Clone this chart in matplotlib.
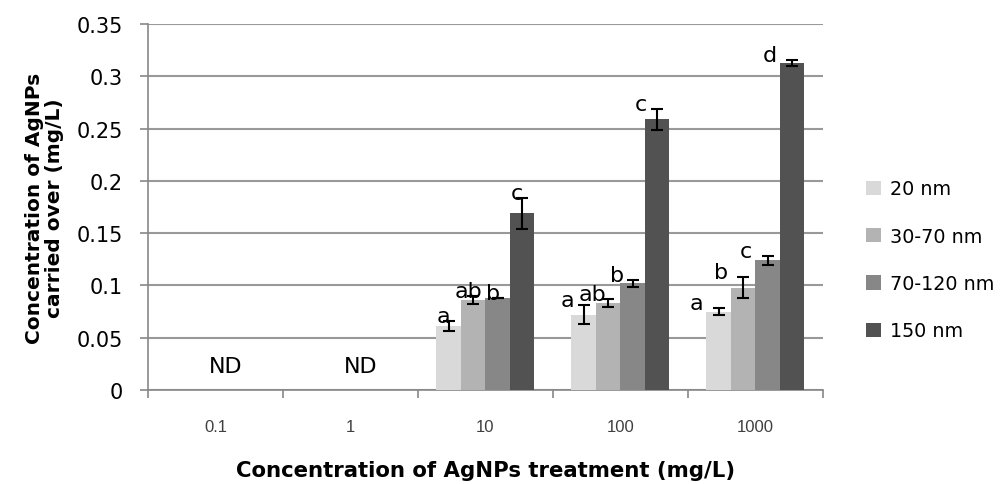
import numpy as np
import matplotlib.pyplot as plt

plt.rcParams['font.family'] = ['DejaVu Sans']

categories = ['0.1', '1', '10', '100', '1000']
series = ['20 nm', '30-70 nm', '70-120 nm', '150 nm']
colors = ['#d9d9d9', '#b3b3b3', '#878787', '#525252']

# mean values per series (rows) across treatments (columns); ND -> 0
values = [
    [0.0, 0.0, 0.061, 0.072, 0.075],
    [0.0, 0.0, 0.086, 0.083, 0.098],
    [0.0, 0.0, 0.088, 0.102, 0.124],
    [0.0, 0.0, 0.169, 0.259, 0.313],
]
errors = [
    [0.0, 0.0, 0.005, 0.009, 0.003],
    [0.0, 0.0, 0.0035, 0.004, 0.0105],
    [0.0, 0.0, 0.0, 0.0035, 0.004],
    [0.0, 0.0, 0.015, 0.010, 0.003],
]
letters = [
    ['', '', 'a', 'a', 'a'],
    ['', '', 'ab', 'ab', 'b'],
    ['', '', 'b', 'b', 'c'],
    ['', '', 'c', 'c', 'd'],
]
nd_groups = ['0.1', '1']

px = 0.72  # points per pixel at 100 dpi
label_shift = [0, 0, -5, -16, -22]  # letter offsets per group, pixels

fig = plt.figure(figsize=(10.06, 4.85), dpi=100)
ax = fig.add_axes([0.147, 0.194, 0.671, 0.754])

x = np.arange(len(categories))
w = 0.1815
for i in range(len(series)):
    pos = x + (i - 1.5) * w
    ax.bar(pos, values[i], w, color=colors[i], label=series[i], zorder=3)
    v = np.array(values[i])
    e = np.array(errors[i])
    m = v > 0
    ax.errorbar(pos[m], v[m], yerr=e[m], fmt='none', ecolor='black',
                elinewidth=1.5, capsize=4.3, capthick=1.5, zorder=4)
    for j in range(len(categories)):
        if letters[i][j]:
            ax.annotate(letters[i][j], (pos[j], v[j] + e[j]),
                        xytext=(label_shift[j] * px, -1 * px),
                        textcoords='offset points', ha='center', va='baseline',
                        fontsize=16, zorder=5)

for c in nd_groups:
    j = categories.index(c)
    ax.text(j + 0.075, 0.023, 'ND', ha='center', va='center', fontsize=16)

ax.set_xlim(-0.5, len(categories) - 0.5)
ax.set_ylim(0, 0.35)
ax.set_yticks(np.arange(0, 0.351, 0.05))
ax.set_yticklabels(['0', '0.05', '0.1', '0.15', '0.2', '0.25', '0.3', '0.35'], fontsize=15)
ax.set_xticks(x)
ax.set_xticklabels(categories, fontsize=12, family='Liberation Sans', color='#404040')
ax.set_xticks(np.arange(-0.5, len(categories)), minor=True)
ax.tick_params(axis='x', which='major', length=0, pad=21)
ax.tick_params(axis='x', which='minor', length=6, color='#888888', width=1.2)
ax.tick_params(axis='y', length=6, color='#888888', width=1.2, pad=12)

ax.yaxis.grid(True, color='#999999', linewidth=1.5, zorder=0)
ax.set_axisbelow(True)
for s in ['top', 'right']:
    ax.spines[s].set_visible(False)
for s in ['left', 'bottom']:
    ax.spines[s].set_color('#888888')
    ax.spines[s].set_linewidth(1.2)

ax.set_ylabel('Concentration of AgNPs\ncarried over (mg/L)', fontsize=14.5,
              fontweight='bold', labelpad=9, linespacing=1.05)
ax.set_xlabel('Concentration of AgNPs treatment (mg/L)', fontsize=15.3,
              fontweight='bold', labelpad=19)

fig.legend(*ax.get_legend_handles_labels(), loc='center left',
           bbox_to_anchor=(866 / 1006, 0.462), frameon=False,
           fontsize=13.8, handlelength=0.8, handleheight=0.78, handletextpad=0.45,
           labelspacing=1.48, borderpad=0, borderaxespad=0)

fig.savefig('out.png', dpi=100)
